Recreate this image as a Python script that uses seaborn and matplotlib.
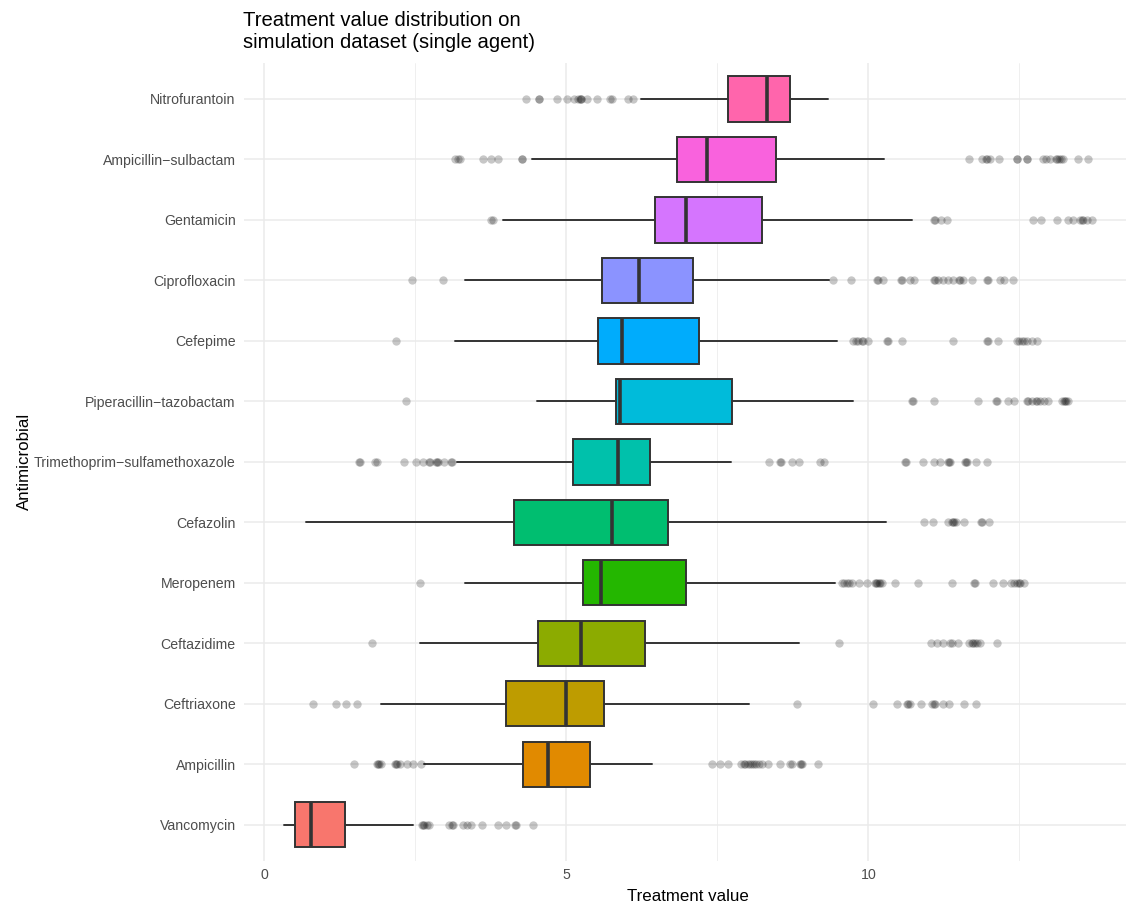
import numpy as np
import pandas as pd
import matplotlib
matplotlib.use("Agg")
import matplotlib.pyplot as plt
import seaborn as sns

# Antimicrobials, listed top to bottom as drawn
drugs = [
    "Nitrofurantoin", "Ampicillin-sulbactam", "Gentamicin", "Ciprofloxacin",
    "Cefepime", "Piperacillin-tazobactam", "Trimethoprim-sulfamethoxazole",
    "Cefazolin", "Meropenem", "Ceftazidime", "Ceftriaxone", "Ampicillin",
    "Vancomycin",
]

# Box summaries (same order as drugs)
whisker_low = [6.24, 4.44, 3.96, 3.33, 3.15, 4.51, 3.19, 0.69, 3.33, 2.58, 1.93, 2.65, 0.33]
q1 = [7.68, 6.84, 6.47, 5.59, 5.53, 5.82, 5.11, 4.13, 5.27, 4.53, 4.00, 4.29, 0.51]
median = [8.33, 7.33, 6.98, 6.20, 5.93, 5.89, 5.85, 5.75, 5.57, 5.25, 4.99, 4.70, 0.77]
q3 = [8.70, 8.48, 8.24, 7.09, 7.19, 7.75, 6.39, 6.69, 6.98, 6.30, 5.63, 5.40, 1.34]
whisker_high = [9.34, 10.26, 10.72, 9.35, 9.48, 9.75, 7.72, 10.29, 9.45, 8.86, 8.03, 6.42, 2.47]

# Outlying treatment values per antimicrobial
outliers = {
    "Nitrofurantoin": [4.34, 4.54, 4.54, 4.85, 5.02, 5.12, 5.20, 5.22, 5.25, 5.25,
                       5.34, 5.51, 5.73, 5.75, 6.02, 6.10],
    "Ampicillin-sulbactam": [3.16, 3.20, 3.24, 3.62, 3.75, 3.87, 4.27, 4.27,
                             11.66, 11.89, 11.95, 11.97, 12.01, 12.17, 12.46, 12.46,
                             12.62, 12.62, 12.90, 12.95, 13.01, 13.11, 13.13, 13.15,
                             13.19, 13.23, 13.48, 13.63],
    "Gentamicin": [3.76, 3.78, 11.09, 11.11, 11.21, 11.31, 12.72, 12.86, 13.12,
                   13.31, 13.39, 13.51, 13.53, 13.56, 13.62, 13.71],
    "Ciprofloxacin": [2.44, 2.96, 9.42, 9.71, 10.14, 10.16, 10.25, 10.54, 10.56,
                      10.69, 10.75, 11.08, 11.10, 11.16, 11.24, 11.32, 11.41, 11.50,
                      11.52, 11.57, 11.71, 11.97, 11.99, 12.18, 12.25, 12.39],
    "Cefepime": [2.18, 9.75, 9.80, 9.83, 9.90, 9.92, 10.00, 10.31, 10.33, 10.56,
                 11.41, 11.97, 11.99, 12.14, 12.46, 12.50, 12.54, 12.58, 12.62,
                 12.71, 12.79],
    "Piperacillin-tazobactam": [2.35, 10.72, 10.74, 11.09, 11.82, 12.11, 12.13, 12.32,
                                12.42, 12.62, 12.64, 12.71, 12.78, 12.80, 12.84,
                                12.91, 12.98, 13.20, 13.24, 13.26, 13.28, 13.31],
    "Trimethoprim-sulfamethoxazole": [1.57, 1.59, 1.83, 1.87, 2.31, 2.51, 2.62, 2.72,
                                      2.74, 2.84, 2.86, 2.88, 2.98, 3.09, 3.11,
                                      8.36, 8.53, 8.55, 8.74, 8.86, 9.20, 9.27,
                                      10.61, 10.63, 10.90, 11.09, 11.19, 11.32, 11.34,
                                      11.36, 11.60, 11.62, 11.64, 11.78, 11.96],
    "Cefazolin": [10.93, 11.07, 11.32, 11.38, 11.40, 11.42, 11.46, 11.58, 11.87,
                  11.89, 12.00],
    "Meropenem": [2.57, 9.56, 9.60, 9.64, 9.68, 9.73, 9.85, 9.98, 10.11, 10.13,
                  10.15, 10.17, 10.20, 10.22, 10.45, 10.83, 11.38, 11.75, 11.77,
                  12.07, 12.23, 12.37, 12.41, 12.46, 12.49, 12.51, 12.58],
    "Ceftazidime": [1.79, 9.52, 11.03, 11.14, 11.24, 11.36, 11.38, 11.49, 11.67,
                    11.72, 11.74, 11.77, 11.80, 11.85, 12.13],
    "Ceftriaxone": [0.81, 1.18, 1.36, 1.53, 8.82, 10.07, 10.47, 10.64, 10.66, 10.69,
                    10.87, 11.06, 11.08, 11.10, 11.23, 11.34, 11.59, 11.78],
    "Ampicillin": [1.49, 1.86, 1.88, 1.90, 1.94, 2.16, 2.18, 2.19, 2.24, 2.36, 2.47,
                   2.59, 7.41, 7.54, 7.67, 7.90, 7.94, 7.96, 8.01, 8.04, 8.07, 8.10,
                   8.14, 8.19, 8.24, 8.34, 8.53, 8.70, 8.73, 8.87, 8.89, 8.91, 9.17],
    "Vancomycin": [2.61, 2.63, 2.65, 2.69, 2.73, 3.05, 3.10, 3.12, 3.29, 3.35, 3.43,
                   3.60, 3.87, 4.01, 4.15, 4.17, 4.45],
}

# Fill colours (same order as drugs)
colors = ["#FF65AC", "#F962DD", "#D575FE", "#8B93FF", "#00ACFC", "#00BBDA",
          "#00C1AB", "#00BE70", "#24B700", "#8CAB00", "#BE9C00", "#E18A00",
          "#F8766D"]

x_ticks = [0, 5, 10]
x_minor = [2.5, 7.5, 12.5]

sns.set_theme(style="whitegrid")
plt.rcParams["font.family"] = ["Liberation Sans", "DejaVu Sans"]

n = len(drugs)
positions = [n - 1 - i for i in range(n)]
labels = [d.replace("-", "\u2212") for d in drugs]

fig = plt.figure(figsize=(11.26, 9.02), dpi=100)
W, H = 1126, 902
ax = fig.add_axes([243.8 / W, 1 - 861 / H, 889 / W, (861 - 62.7) / H])

# Grid
grid_col = "#EBEBEB"
ax.grid(False)
for v in x_ticks:
    ax.axvline(v, color=grid_col, lw=1.1, zorder=0)
for v in x_minor:
    ax.axvline(v, color=grid_col, lw=0.55, zorder=0)
for p in positions:
    ax.axhline(p, color=grid_col, lw=1.1, zorder=0)

# Boxes
stats = [
    dict(med=median[i], q1=q1[i], q3=q3[i], whislo=whisker_low[i],
         whishi=whisker_high[i], fliers=[], label=drugs[i])
    for i in range(n)
]
edge = "#333333"
bp = ax.bxp(
    stats, positions=positions, widths=0.75, orientation="horizontal",
    patch_artist=True, showcaps=False, showfliers=False,
    boxprops=dict(edgecolor=edge, linewidth=1.4),
    whiskerprops=dict(color=edge, linewidth=1.4),
    medianprops=dict(color=edge, linewidth=2.6, solid_capstyle="butt"),
    manage_ticks=False,
)
for patch, c in zip(bp["boxes"], colors):
    patch.set_facecolor(c)
    patch.set_zorder(2)
for w in bp["whiskers"]:
    w.set_zorder(1.5)
for m in bp["medians"]:
    m.set_zorder(3)

# Outlying points
rows = []
for i, d in enumerate(drugs):
    for v in outliers[d]:
        rows.append({"drug": d, "value": v, "pos": positions[i]})
flier_df = pd.DataFrame(rows)
sns.scatterplot(data=flier_df, x="value", y="pos", color="black", alpha=0.22,
                s=36, linewidth=0, legend=False, ax=ax, zorder=4)

# Scale limits with 5% expansion
all_vals = whisker_low + whisker_high + flier_df["value"].tolist()
lo, hi = min(all_vals), max(all_vals)
span = hi - lo
ax.set_xlim(lo - 0.05 * span, hi + 0.05 * span)
ax.set_ylim(-0.6, n - 0.4)

ax.set_xticks(x_ticks, [str(t) for t in x_ticks])
ax.set_yticks(positions, labels)
ax.tick_params(axis="both", length=0, labelcolor="#4D4D4D", labelsize=10.2)
ax.tick_params(axis="y", pad=5.8)
ax.tick_params(axis="x", pad=5)
for s in ax.spines.values():
    s.set_visible(False)
ax.set_facecolor("white")

ax.set_xlabel("Treatment value", fontsize=12.2, color="black", labelpad=5)
ax.set_ylabel("Antimicrobial", fontsize=12.2, color="black", labelpad=1.5)

fig.text(243 / W, 1 - 11 / H,
         "Treatment value distribution on\nsimulation dataset (single agent)",
         fontsize=14.6, color="black", ha="left", va="top", linespacing=1.2)

fig.savefig("out.png", dpi=100, facecolor="white")
